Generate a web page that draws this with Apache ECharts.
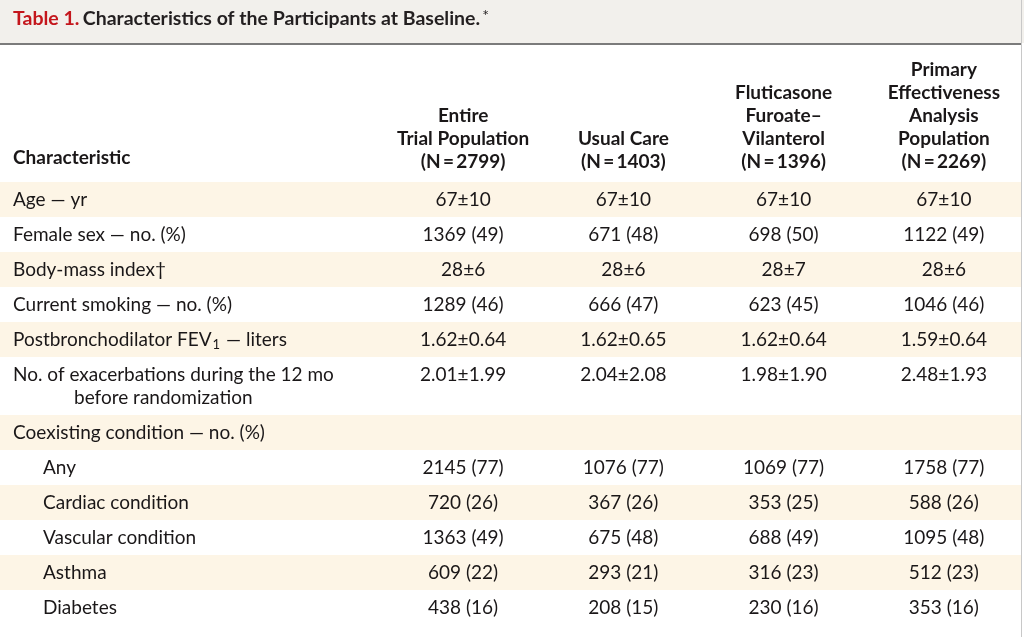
<!DOCTYPE html>
<html>
<head>
<meta charset="utf-8">
<script src="https://cdn.jsdelivr.net/npm/echarts@6/dist/echarts.min.js"></script>
<style>html,body{margin:0;padding:0;background:#fff}#chart{width:1024px;height:637px}</style>
</head>
<body>
<div id="chart"></div>
<script>
// ---- Data ----
const titleLabel = "Table 1.";
const titleText = "Characteristics of the Participants at Baseline.";
const firstColumnHeader = "Characteristic";
const columnHeaders = [
  "Entire\nTrial Population\n(N\u2009=\u20092799)",
  "Usual Care\n(N\u2009=\u20091403)",
  "Fluticasone\nFuroate\u2013\nVilanterol\n(N\u2009=\u20091396)",
  "Primary\nEffectiveness\nAnalysis\nPopulation\n(N\u2009=\u20092269)"
];
const characteristics = [
  "Age \u2014 yr",
  "Female sex \u2014 no. (%)",
  "Body-mass index\u2020",
  "Current smoking \u2014 no. (%)",
  "Postbronchodilator FEV{sub|1} \u2014 liters",
  "No. of exacerbations during the 12 mo\nbefore randomization",
  "Coexisting condition \u2014 no. (%)",
  "Any",
  "Cardiac condition",
  "Vascular condition",
  "Asthma",
  "Diabetes"
];
const subItem = [false, false, false, false, false, false, false, true, true, true, true, true];
const entireTrial = ["67\u00b110", "1369 (49)", "28\u00b16", "1289 (46)", "1.62\u00b10.64", "2.01\u00b11.99", "", "2145 (77)", "720 (26)", "1363 (49)", "609 (22)", "438 (16)"];
const usualCare   = ["67\u00b110", "671 (48)", "28\u00b16", "666 (47)", "1.62\u00b10.65", "2.04\u00b12.08", "", "1076 (77)", "367 (26)", "675 (48)", "293 (21)", "208 (15)"];
const ffVilanterol = ["67\u00b110", "698 (50)", "28\u00b17", "623 (45)", "1.62\u00b10.64", "1.98\u00b11.90", "", "1069 (77)", "353 (25)", "688 (49)", "316 (23)", "230 (16)"];
const primaryEff  = ["67\u00b110", "1122 (49)", "28\u00b16", "1046 (46)", "1.59\u00b10.64", "2.48\u00b11.93", "", "1758 (77)", "588 (26)", "1095 (48)", "512 (23)", "353 (16)"];

// ---- Layout / style ----
const FONT = 'Lato, "Open Sans", sans-serif';
const FS = 19;
const LINE_H = 23;
const ROW_UNIT_EXTRA = 0.657; // extra row height per additional text line (in row units)
const TEXT_COLOR = '#1a1718';
const STRIPE = '#fdf5e6';
const LEFT_PAD = 13, SUB_INDENT = 30, HANG_INDENT = 61;

const valueCols = [entireTrial, usualCare, ffVilanterol, primaryEff];
const rowHeights = characteristics.map(t => 1 + (t.split('\n').length - 1) * ROW_UNIT_EXTRA);
const rowStarts = [];
rowHeights.reduce((acc, h, i) => { rowStarts[i] = acc; return acc + h; }, 0);
const totalUnits = rowHeights.reduce((a, b) => a + b, 0);

const chart = echarts.init(document.getElementById('chart'), null, {renderer: 'canvas'});

function renderRow(params, api) {
  const i = params.dataIndex;
  const top = api.coord([0, rowStarts[i]])[1];
  const bottom = api.coord([0, rowStarts[i] + rowHeights[i]])[1];
  const unitPx = api.size([0, 1])[1];
  const textTop = top + (unitPx - LINE_H) / 2;
  const children = [];
  if (i % 2 === 0) {
    children.push({type: 'rect', shape: {x: 0, y: top, width: 1021, height: bottom - top}, style: {fill: STRIPE}, silent: true});
  }
  const lines = characteristics[i].split('\n');
  lines.forEach((ln, k) => {
    children.push({
      type: 'text',
      style: {
        x: LEFT_PAD + (subItem[i] ? SUB_INDENT : 0) + (k > 0 ? HANG_INDENT : 0),
        y: textTop + k * LINE_H,
        text: ln,
        fill: TEXT_COLOR,
        fontSize: FS, fontFamily: FONT,
        lineHeight: LINE_H,
        verticalAlign: 'top', align: 'left',
        rich: {sub: {fontSize: 13, fontFamily: FONT, fill: TEXT_COLOR, padding: [11, 1, 0, 1]}}
      }
    });
  });
  valueCols.forEach((col, c) => {
    const x = api.coord([c, 0])[0];
    children.push({
      type: 'text',
      style: {
        x: x, y: textTop, text: col[i], fill: TEXT_COLOR,
        fontSize: FS, fontFamily: FONT, lineHeight: LINE_H,
        verticalAlign: 'top', align: 'center'
      }
    });
  });
  return {type: 'group', children: children};
}

const option = {
  backgroundColor: '#ffffff',
  animation: false,
  grid: {left: 383, right: 0, top: 182, bottom: 12, containLabel: false},
  xAxis: {
    type: 'category',
    position: 'top',
    data: columnHeaders,
    axisLine: {show: false}, axisTick: {show: false}, splitLine: {show: false},
    axisLabel: {
      interval: 0, margin: 9,
      color: TEXT_COLOR, fontFamily: FONT, fontSize: FS, fontWeight: 'bold',
      lineHeight: LINE_H, align: 'center'
    }
  },
  yAxis: {
    type: 'value', inverse: true, min: 0, max: totalUnits,
    show: false
  },
  series: [{
    type: 'custom',
    renderItem: renderRow,
    data: characteristics.map((c, i) => [0, rowStarts[i]]),
    clip: false,
    silent: true
  }],
  graphic: [
    {type: 'rect', shape: {x: 0, y: 0, width: 1024, height: 43}, style: {fill: '#f2f0ec'}, silent: true, z: -1},
    {type: 'rect', shape: {x: 0, y: 43, width: 1022, height: 2}, style: {fill: '#7b7b7b'}, silent: true},
    {type: 'rect', shape: {x: 1021, y: 0, width: 1, height: 637}, style: {fill: '#c8c8c8'}, silent: true},
    {
      type: 'text', left: LEFT_PAD, top: 8,
      style: {
        text: '{red|' + titleLabel + '} {blk|' + titleText + '}{sup|*}',
        rich: {
          red: {fill: '#c4161c', fontFamily: FONT, fontSize: 19.5, fontWeight: 'bold'},
          blk: {fill: '#231f20', fontFamily: FONT, fontSize: 19.5, fontWeight: 'bold'},
          sup: {fill: '#231f20', fontFamily: FONT, fontSize: 16, padding: [0, 0, 6, 2]}
        }
      }
    },
    {
      type: 'text', left: LEFT_PAD, top: 148,
      style: {text: firstColumnHeader, fill: TEXT_COLOR, fontFamily: FONT, fontSize: FS, fontWeight: 'bold'}
    }
  ]
};
chart.setOption(option);
</script>
</body>
</html>
